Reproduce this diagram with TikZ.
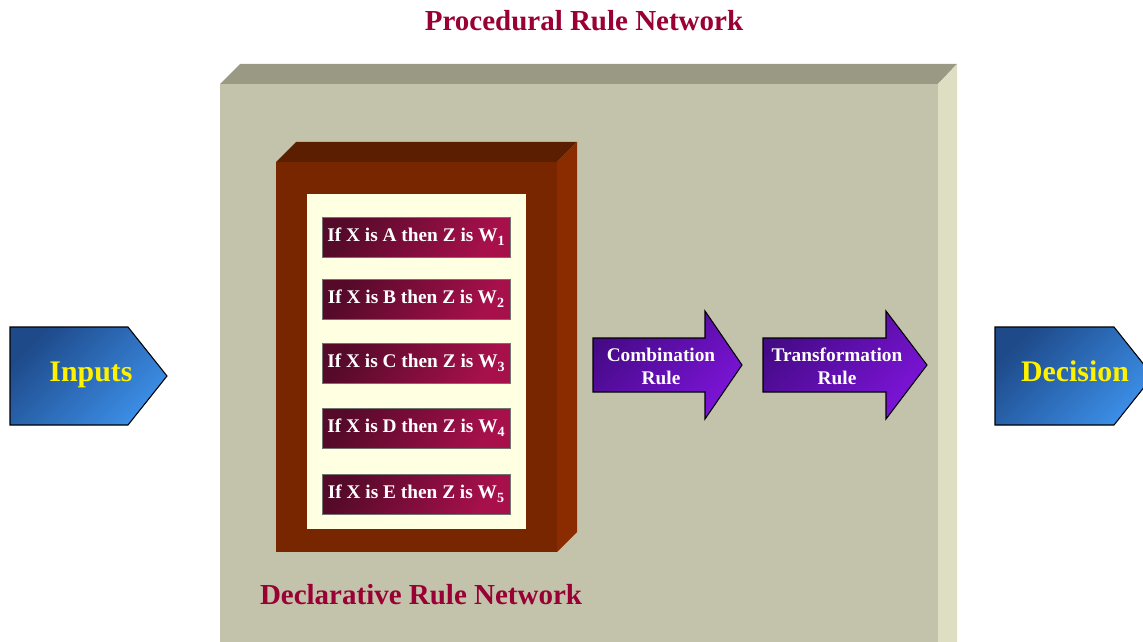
\documentclass[tikz,border=0pt]{standalone}
\usepackage{fontspec}
\setmainfont{Liberation Serif}
\usetikzlibrary{positioning}

\definecolor{crimson}{HTML}{990033}
\definecolor{khakifront}{HTML}{C3C3AC}
\definecolor{khakitop}{HTML}{999984}
\definecolor{khakiside}{HTML}{DEDEC2}
\definecolor{brownfront}{HTML}{772600}
\definecolor{browntop}{HTML}{5C1E00}
\definecolor{brownside}{HTML}{8A2C00}
\definecolor{cream}{HTML}{FFFFE1}
\definecolor{maroondark}{HTML}{560A2A}
\definecolor{maroonlight}{HTML}{A8104C}
\definecolor{bluedark}{HTML}{1E4A8A}
\definecolor{bluelight}{HTML}{3C8FE8}
\definecolor{purpledark}{HTML}{450A86}
\definecolor{purplelight}{HTML}{7C14D8}

\newcommand{\lowsub}[1]{\raisebox{-0.45ex}{\fontsize{8}{8}\selectfont #1}}

\begin{document}
\begin{tikzpicture}[x=0.02cm,y=-0.02cm,
	rulebox/.style={draw=black!55,line width=0.5pt,top color=maroondark,bottom color=maroonlight,shading angle=60,
		minimum width=3.76cm,minimum height=0.8cm,inner sep=0pt,text=white,font=\bfseries\fontsize{11}{13}\selectfont},
	bluearrow/.style={draw=black,line width=0.6pt,top color=bluedark,bottom color=bluelight,shading angle=45},
	purplearrow/.style={draw=black,line width=0.6pt,top color=purpledark,bottom color=purplelight,shading angle=45},
	bigword/.style={anchor=base,text=yellow,font=\bfseries\fontsize{17}{20}\selectfont},
	arrowword/.style={align=center,text=white,font=\bfseries\fontsize{11}{13}\selectfont},
	titleword/.style={anchor=base,text=crimson,font=\bfseries\fontsize{16.5}{20}\selectfont}]
	\clip (0,0) rectangle (1143,642);

	% procedural rule network box
	\fill[khakifront] (220,84) rectangle (938,642);
	\fill[khakitop] (220,84)--(240,64)--(957,64)--(938,84)--cycle;
	\fill[khakiside] (938,84)--(957,64)--(957,642)--(938,642)--cycle;

	% declarative rule network box
	\fill[brownfront] (276,162) rectangle (557,552);
	\fill[browntop] (276,162)--(296,142)--(577,142)--(557,162)--cycle;
	\fill[brownside] (557,162)--(577,142)--(577,532)--(557,552)--cycle;
	\fill[cream] (307,194) rectangle (526,529);

	\foreach \yy/\ltr/\idx in {237/A/1,299/B/2,363/C/3,428/D/4,494/E/5}
		\node[rulebox] (rule\idx) at (416,\yy) {If X is \ltr\ then Z is W\lowsub{\idx}};

	% inputs and decision
	\draw[bluearrow] (10,327)--(128,327)--(167,376)--(128,425)--(10,425)--cycle;
	\node[bigword] (inputs) at (91,381) {Inputs};
	\draw[bluearrow] (995,327)--(1114,327)--(1153,376)--(1114,425)--(995,425)--cycle;
	\node[bigword] (decision) at (1075,381) {Decision};

	% rule arrows
	\draw[purplearrow] (593,338)--(705,338)--(705,311)--(742,365)--(705,419)--(705,392)--(593,392)--cycle;
	\node[arrowword] (combination) at (661,366) {Combination\\Rule};
	\draw[purplearrow] (763,338)--(886,338)--(886,311)--(927,365)--(886,419)--(886,392)--(763,392)--cycle;
	\node[arrowword] (transformation) at (837,366) {Transformation\\Rule};

	\node[titleword] (procedural) at (584,31) {Procedural Rule Network};
	\node[titleword] (declarative) at (421,604) {Declarative Rule Network};
\end{tikzpicture}
\end{document}
